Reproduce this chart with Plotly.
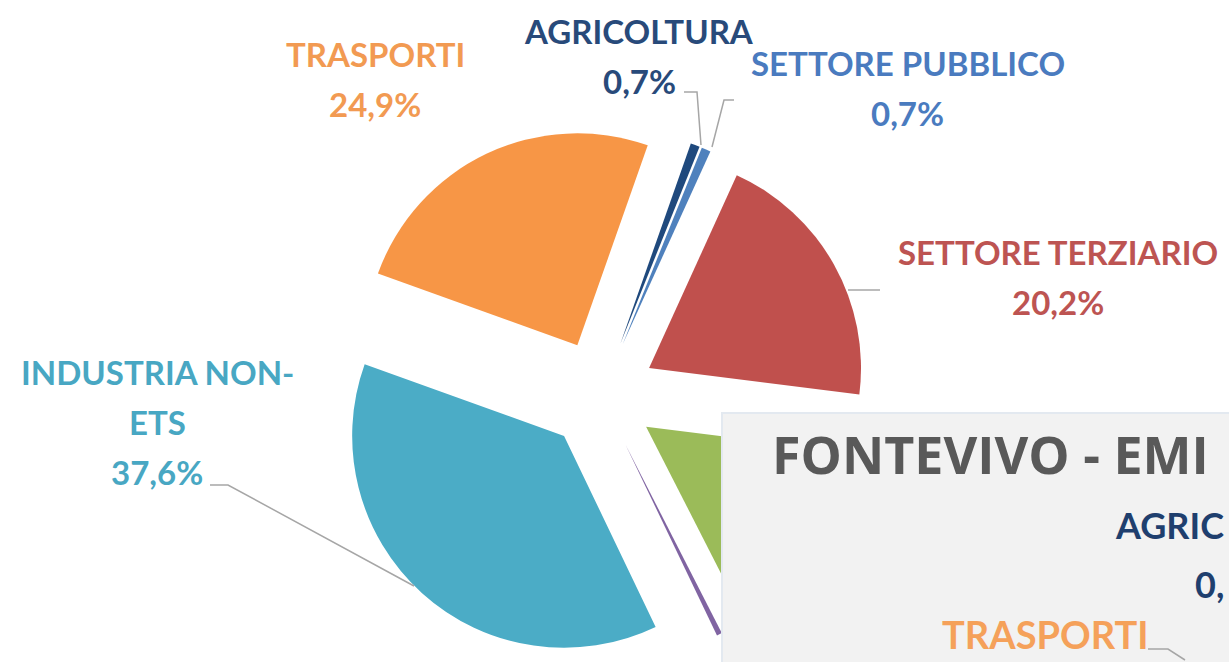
import plotly.graph_objects as go

W, H = 1229, 662

# dati del grafico (quote percentuali delle emissioni per settore)
settori = ["AGRICOLTURA", "SETTORE PUBBLICO", "SETTORE TERZIARIO", "RESIDENZIALE",
           "ILLUMINAZIONE PUBBLICA", "INDUSTRIA NON-ETS", "TRASPORTI"]
quote = [0.7, 0.7, 20.2, 15.5, 0.4, 37.6, 24.9]
colori = ["#1f497d", "#4f81bd", "#c0504d", "#9bbb59", "#8064a2", "#4bacc6", "#f79646"]
colori_testo = ["#284a7a", "#4a7bbf", "#bd5452", "#9bbb59", "#8064a2", "#48a7c3", "#f29a52"]

# grafico sovrapposto (ritagliato) in basso a destra: solo il testo visibile
titolo_sovr = "FONTEVIVO - EMI"
etichette_sovr = ["AGRIC", "0,", "TRASPORTI"]


def px(x):
    return x / W


def py(y):
    return 1 - y / H


def perc(v):
    return f"{v:.1f}%".replace(".", ",")


# posizione della torta (pixel) e esplosione delle fette
CX, CY = 601, 395
half = H - CY
pull = 0.26

fig = go.Figure(go.Pie(
    labels=settori,
    values=quote,
    sort=False,
    direction="clockwise",
    rotation=19.4,
    pull=[pull] * len(quote),
    marker=dict(colors=colori, line=dict(width=0)),
    textinfo="none",
    hoverinfo="label+percent",
    showlegend=False,
    domain=dict(x=[px(CX - half), px(CX + half)], y=[0, 2 * half / H]),
))

# etichette: righe del nome, centro x, y della prima riga (pixel)
posizioni = {
    "AGRICOLTURA": (["AGRICOLTURA"], 639, 31),
    "SETTORE PUBBLICO": (["SETTORE PUBBLICO"], 908, 63),
    "SETTORE TERZIARIO": (["SETTORE TERZIARIO"], 1058, 252),
    "INDUSTRIA NON-ETS": (["INDUSTRIA NON-", "ETS"], 157, 372),
    "TRASPORTI": (["TRASPORTI"], 375, 54),
}
passo = 50

annotations = []
for nome, v, col in zip(settori, quote, colori_testo):
    if nome not in posizioni:
        continue  # nascoste sotto il riquadro grigio
    righe, x, y = posizioni[nome]
    for i, riga in enumerate(righe + [perc(v)]):
        annotations.append(dict(
            x=px(x), y=py(y + i * passo), xref="paper", yref="paper",
            text=riga, showarrow=False, xanchor="center", yanchor="middle",
            font=dict(family="Lato", size=33, color=col, weight=700)))


def path(punti):
    return "M " + " L ".join(f"{px(a):.5f},{py(b):.5f}" for a, b in punti)


linee = [
    [(684, 92), (697, 92), (701, 145)],
    [(734, 100), (724, 100), (712, 147)],
    [(848, 290), (880, 290)],
    [(210, 485), (228, 485), (414, 586)],
]
shapes = [dict(type="path", path=path(p), xref="paper", yref="paper",
               line=dict(color="#a6a6a6", width=1.5)) for p in linee]

# riquadro del secondo grafico, sopra la torta
shapes.append(dict(type="rect", xref="paper", yref="paper", layer="above",
                   x0=px(722), x1=1.02, y0=-0.02, y1=py(413),
                   fillcolor="#f2f2f2", line=dict(color="#e3e9f0", width=2)))
shapes.append(dict(type="path", path=path([(1148, 649), (1168, 649), (1185, 660)]),
                   xref="paper", yref="paper", layer="above",
                   line=dict(color="#a6a6a6", width=1.5)))

annotations.append(dict(x=px(770), y=py(453), xref="paper", yref="paper",
                        text=titolo_sovr, showarrow=False, xanchor="left", yanchor="middle",
                        font=dict(family="Open Sans", size=52, color="#595959", weight=700)))
annotations.append(dict(x=px(1226), y=py(525), xref="paper", yref="paper",
                        text=etichette_sovr[0], showarrow=False, xanchor="right", yanchor="middle",
                        font=dict(family="Lato", size=36, color="#1f3f6e", weight=700)))
annotations.append(dict(x=px(1226), y=py(584), xref="paper", yref="paper",
                        text=etichette_sovr[1], showarrow=False, xanchor="right", yanchor="middle",
                        font=dict(family="Lato", size=36, color="#1f3f6e", weight=700)))
annotations.append(dict(x=px(1150), y=py(634), xref="paper", yref="paper",
                        text=etichette_sovr[2], showarrow=False, xanchor="right", yanchor="middle",
                        font=dict(family="Lato", size=38, color="#f5a15a", weight=700)))

fig.update_layout(
    width=W, height=H,
    margin=dict(l=0, r=0, t=0, b=0),
    paper_bgcolor="white",
    plot_bgcolor="white",
    annotations=annotations,
    shapes=shapes,
)

# niente margine della pagina: la figura riempie esattamente la finestra
fig.write_html("out.html", config={"displayModeBar": False},
               post_script="document.body.style.margin='0px';")
